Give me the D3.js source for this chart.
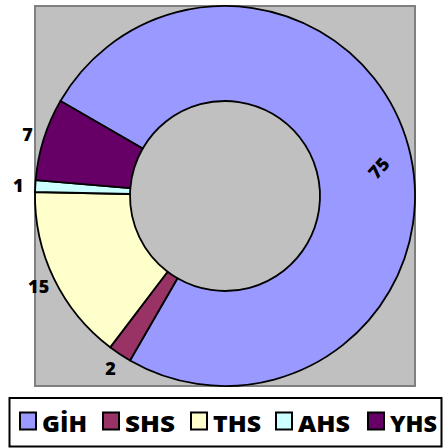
<!DOCTYPE html>
<html>
<head>
<meta charset="utf-8">
<script src="https://cdn.jsdelivr.net/npm/d3@7"></script>
<style>
html,body{margin:0;padding:0;background:#fff;}
svg{display:block;}
text{font-family:"Open Sans",Lato,sans-serif;font-weight:800;fill:#000;}
</style>
</head>
<body>
<svg id="chart" width="448" height="448"></svg>
<script>
const categories = ["GİH", "SHS", "THS", "AHS", "YHS"];
const values = [75, 2, 15, 1, 7];
const colors = ["#9999FF", "#993366", "#FFFFCC", "#CCFFFF", "#660066"];
const legendWidths = [45, 50, 48, 52, 47];

const svg = d3.select("#chart");
const cx = 225, cy = 196, R = 190, r = 95;

// plot area
svg.append("rect").attr("x", 35).attr("y", 6).attr("width", 380).attr("height", 380)
  .attr("fill", "#C0C0C0").attr("stroke", "#808080").attr("stroke-width", 2);

const start = -Math.PI / 3;
const pie = d3.pie().sort(null).value(d => d.v).startAngle(start).endAngle(start + 2 * Math.PI);
const data = pie(categories.map((c, i) => ({c, v: values[i], col: colors[i]})));
const arc = d3.arc().innerRadius(r).outerRadius(R);
const g = svg.append("g").attr("transform", `translate(${cx},${cy})`);
g.selectAll("path").data(data).join("path")
  .attr("d", arc).attr("fill", d => d.data.col)
  .attr("stroke", "#000").attr("stroke-width", 1.8).attr("stroke-linejoin", "round");

function polar(rad, ang) { return [rad * Math.sin(ang), -rad * Math.cos(ang)]; }
g.selectAll("text.lab").data(data).join("text").attr("class", "lab")
  .attr("font-size", 18)
  .attr("text-anchor", "middle").attr("dominant-baseline", "central")
  .attr("transform", d => {
    const mid = (d.startAngle + d.endAngle) / 2;
    if (d.data.v > 50) {
      const [x, y] = polar(156, mid + 0.08);
      return `translate(${x},${y}) rotate(-48)`;
    }
    const [x, y] = polar(207, mid);
    return `translate(${x},${y})`;
  })
  .text(d => d.data.v);

// legend
svg.append("rect").attr("x", 9.5).attr("y", 398).attr("width", 432).attr("height", 48.5)
  .attr("fill", "#fff").attr("stroke", "#000").attr("stroke-width", 2);
const sqX = [19, 102, 190, 275, 367];
const lg = svg.append("g");
categories.forEach((c, i) => {
  lg.append("rect").attr("x", sqX[i] + 1).attr("y", 412.5).attr("width", 16).attr("height", 17)
    .attr("fill", colors[i]).attr("stroke", "#000").attr("stroke-width", 2);
  lg.append("text").attr("x", sqX[i] + 23).attr("y", 432)
    .attr("font-size", 22)
    .attr("textLength", legendWidths[i]).attr("lengthAdjust", "spacingAndGlyphs")
    .text(c);
});
</script>
</body>
</html>
